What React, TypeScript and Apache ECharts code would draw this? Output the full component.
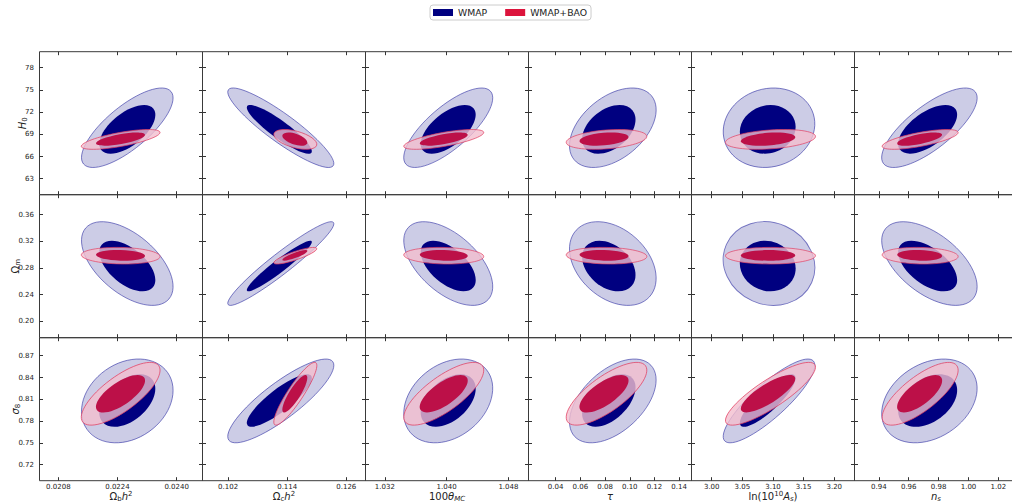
import React, { useEffect, useRef } from 'react';
import * as echarts from 'echarts';

const FONT = 'DejaVu Sans';

// Tick labels per column (x) and per row (y)
const X_TICKS = [
  ['0.0208', '0.0224', '0.0240'],
  ['0.102', '0.114', '0.126'],
  ['1.032', '1.040', '1.048'],
  ['0.04', '0.06', '0.08', '0.10', '0.12', '0.14'],
  ['3.00', '3.05', '3.10', '3.15', '3.20'],
  ['0.94', '0.96', '0.98', '1.00', '1.02'],
];
const Y_TICKS = [
  ['63', '66', '69', '72', '75', '78'],
  ['0.20', '0.24', '0.28', '0.32', '0.36'],
  ['0.72', '0.75', '0.78', '0.81', '0.84', '0.87'],
];
// Axis limits
const X_RANGES = [[0.02029, 0.0247], [0.0968, 0.1299], [1.0295, 1.0506], [0.018, 0.15], [2.967, 3.233], [0.9237, 1.0328]];
const Y_RANGES = [[60.84, 80.16], [0.1753, 0.39], [0.698, 0.8948]];

// Axis titles (rich text)
const X_NAMES = [
  '{t|Ω}{sub|b}{i|h}{sup|2}',
  '{t|Ω}{sub|c}{i|h}{sup|2}',
  '{t|100}{i|θ}{subi|MC}',
  '{i|τ}',
  '{t|ln(10}{sup|10}{i|A}{subi|s}{t|)}',
  '{i|n}{subi|s}',
];
const Y_NAMES = ['{i|H}{sub|0}', '{t|Ω}{sub|m}', '{i|σ}{sub|8}'];
const Y_NAME_GAPS = [11.5, 18.5, 18.5];

// Marginal contour extents per parameter: [centre, half-extent]
const WMAP_OUTER_X = [[0.022665, 0.001238], [0.1127, 0.010764], [1.04021, 0.005758], [0.08628, 0.03507], [3.0935, 0.07475], [0.97384, 0.03194]];
const WMAP_INNER_X = [[0.022666, 0.000758], [0.1124, 0.006601], [1.04021, 0.003559], [0.08304, 0.02163], [3.0914, 0.04553], [0.97267, 0.01974]];
const BAO_OUTER_X = [[0.022486, 0.001065], [0.11565, 0.004367], [1.03963, 0.005176], [0.08118, 0.03264], [3.0959, 0.07344], [0.96765, 0.02542]];
const BAO_INNER_X = [[0.022482, 0.000663], [0.11555, 0.002539], [1.03963, 0.003106], [0.07916, 0.01985], [3.0919, 0.04439], [0.96732, 0.01505]];
const WMAP_OUTER_Y = [[69.886, 5.37], [0.28663, 0.06283], [0.8078, 0.05765]];
const WMAP_INNER_Y = [[69.67, 3.29], [0.28295, 0.03799], [0.8083, 0.03609]];
const BAO_OUTER_Y = [[68.31, 1.337], [0.29841, 0.01246], [0.81765, 0.04319]];
const BAO_INNER_Y = [[68.35, 0.892], [0.29887, 0.00796], [0.81765, 0.02576]];

// Correlations (row x column)
const WMAP_OUTER_RHO = [
  [0.75, -0.9, 0.75, 0.45, 0.1, 0.75],
  [-0.55, 0.95, -0.55, -0.35, -0.1, -0.55],
  [0.25, 0.85, 0.3, 0.5, 0.85, 0.3],
];
const WMAP_INNER_RHO = [
  [0.6, -0.9, 0.6, 0.4, 0.1, 0.6],
  [-0.55, 0.95, -0.55, -0.35, -0.1, -0.55],
  [0.45, 0.85, 0.45, 0.5, 0.85, 0.4],
];
const BAO_OUTER_RHO = [
  [0.7, -0.5, 0.7, 0.3, 0.3, 0.7],
  [-0.1, 0.85, -0.1, -0.1, 0, -0.1],
  [0.75, 0.9, 0.75, 0.75, 0.85, 0.75],
];
const BAO_INNER_RHO = [
  [0.65, -0.5, 0.65, 0.3, 0.3, 0.65],
  [-0.1, 0.85, -0.1, -0.1, 0, -0.1],
  [0.7, 0.85, 0.7, 0.7, 0.8, 0.7],
];

const GRID_LEFT = 39.5;
const GRID_TOP = 51.7;
const CELL_W = 163;
const CELL_H = 143;

function makeRender(fills: string[], strokes: string[], widths: number[]) {
  return (params: any, api: any) => {
    const cx = api.value(0);
    const cy = api.value(1);
    const hx = api.value(2);
    const hy = api.value(3);
    const rho = api.value(4);
    const lvl = api.value(5);
    const p = api.coord([cx, cy]);
    const sz = api.size([hx, hy], [cx, cy]);
    const a = sz[0] * sz[0];
    const b = sz[1] * sz[1];
    const c = -rho * sz[0] * sz[1];
    const m = (a + b) / 2;
    const d = Math.sqrt(((a - b) / 2) ** 2 + c * c);
    const l1 = m + d;
    const l2 = Math.max(m - d, 0.5);
    const th = 0.5 * Math.atan2(2 * c, a - b);
    return {
      type: 'ellipse',
      x: p[0],
      y: p[1],
      rotation: -th,
      shape: { cx: 0, cy: 0, rx: Math.sqrt(l1), ry: Math.sqrt(l2) },
      style: { fill: fills[lvl], stroke: strokes[lvl], lineWidth: widths[lvl] },
    };
  };
}

const richStyles = {
  t: { fontSize: 10, fontFamily: FONT, color: '#222', lineHeight: 12 },
  i: { fontSize: 10, fontFamily: FONT, color: '#222', fontStyle: 'italic', lineHeight: 12 },
  sub: { fontSize: 7, fontFamily: FONT, color: '#222', verticalAlign: 'bottom', lineHeight: 9 },
  subi: { fontSize: 7, fontFamily: FONT, color: '#222', fontStyle: 'italic', verticalAlign: 'bottom', lineHeight: 9 },
  sup: { fontSize: 7, fontFamily: FONT, color: '#222', verticalAlign: 'top', lineHeight: 9 },
};

function labelFormatter(ticks: string[]) {
  return (v: number) => {
    const s = ticks.find((t) => Math.abs(Number(t) - v) < 1e-9);
    return s === undefined ? '' : s;
  };
}

function buildOption() {
  const grid: any[] = [];
  const xAxis: any[] = [];
  const yAxis: any[] = [];
  const series: any[] = [];
  const tickStyle = { color: '#333', width: 1 };
  const wmapRender = makeRender(
    ['rgba(0,0,128,0.2)', '#000080'],
    ['rgba(40,40,160,0.6)', '#000080'],
    [0.9, 0]
  );
  const baoRender = makeRender(
    ['rgba(243,190,206,0.8)', '#bc1048'],
    ['rgba(225,60,95,0.75)', '#bc1048'],
    [0.9, 0]
  );
  for (let r = 0; r < 3; r++) {
    for (let c = 0; c < 6; c++) {
      const k = r * 6 + c;
      grid.push({
        left: GRID_LEFT + c * CELL_W,
        top: GRID_TOP + r * CELL_H,
        width: CELL_W,
        height: CELL_H,
        show: true,
        borderColor: '#3a3a3a',
        borderWidth: 1,
        backgroundColor: 'transparent',
        containLabel: false,
        outerBoundsMode: 'none',
      });
      const xt = X_TICKS[c];
      const xv = xt.map(Number);
      const yt = Y_TICKS[r];
      const yv = yt.map(Number);
      for (const pos of ['bottom', 'top']) {
        const isLabel = pos === 'bottom' && r === 2;
        xAxis.push({
          type: 'value',
          gridIndex: k,
          position: pos,
          min: X_RANGES[c][0],
          max: X_RANGES[c][1],
          axisLine: { show: false },
          splitLine: { show: false },
          axisTick: { show: true, inside: true, length: 3.5, customValues: xv, lineStyle: tickStyle },
          axisLabel: {
            show: isLabel,
            customValues: xv,
            formatter: labelFormatter(xt),
            margin: 2.5,
            fontSize: 7,
            fontFamily: FONT,
            color: '#222',
          },
          name: isLabel ? X_NAMES[c] : '',
          nameLocation: 'middle',
          nameGap: 10,
          nameMoveOverlap: false,
          nameTextStyle: { rich: richStyles, fontFamily: FONT },
        });
      }
      for (const pos of ['left', 'right']) {
        const isLabel = pos === 'left' && c === 0;
        yAxis.push({
          type: 'value',
          gridIndex: k,
          position: pos,
          min: Y_RANGES[r][0],
          max: Y_RANGES[r][1],
          axisLine: { show: false },
          splitLine: { show: false },
          axisTick: { show: true, inside: true, length: 3.5, customValues: yv, lineStyle: tickStyle },
          axisLabel: {
            show: isLabel,
            customValues: yv,
            formatter: labelFormatter(yt),
            margin: 5.5,
            fontSize: 7,
            fontFamily: FONT,
            color: '#222',
          },
          name: isLabel ? Y_NAMES[r] : '',
          nameLocation: 'middle',
          nameGap: Y_NAME_GAPS[r],
          nameMoveOverlap: false,
          nameTextStyle: { rich: richStyles, fontFamily: FONT },
        });
      }
      series.push({
        type: 'custom',
        name: 'WMAP',
        xAxisIndex: 2 * k,
        yAxisIndex: 2 * k,
        silent: true,
        itemStyle: { color: '#000080' },
        renderItem: wmapRender,
        data: [
          [WMAP_OUTER_X[c][0], WMAP_OUTER_Y[r][0], WMAP_OUTER_X[c][1], WMAP_OUTER_Y[r][1], WMAP_OUTER_RHO[r][c], 0],
          [WMAP_INNER_X[c][0], WMAP_INNER_Y[r][0], WMAP_INNER_X[c][1], WMAP_INNER_Y[r][1], WMAP_INNER_RHO[r][c], 1],
        ],
      });
      series.push({
        type: 'custom',
        name: 'WMAP+BAO',
        xAxisIndex: 2 * k,
        yAxisIndex: 2 * k,
        silent: true,
        itemStyle: { color: '#dc143c' },
        renderItem: baoRender,
        data: [
          [BAO_OUTER_X[c][0], BAO_OUTER_Y[r][0], BAO_OUTER_X[c][1], BAO_OUTER_Y[r][1], BAO_OUTER_RHO[r][c], 0],
          [BAO_INNER_X[c][0], BAO_INNER_Y[r][0], BAO_INNER_X[c][1], BAO_INNER_Y[r][1], BAO_INNER_RHO[r][c], 1],
        ],
      });
    }
  }
  return {
    animation: false,
    backgroundColor: '#ffffff',
    legend: {
      data: ['WMAP', 'WMAP+BAO'],
      left: 430,
      top: 5,
      icon: 'rect',
      itemWidth: 20,
      itemHeight: 7,
      itemGap: 18,
      padding: [3, 4, 3, 3],
      borderColor: '#cccccc',
      borderWidth: 1,
      borderRadius: 3,
      selectedMode: false,
      textStyle: { fontFamily: FONT, fontSize: 9.3, color: '#222' },
    },
    grid,
    xAxis,
    yAxis,
    series,
  };
}

export default function App() {
  const ref = useRef<HTMLDivElement>(null);
  useEffect(() => {
    const chart = echarts.init(ref.current!, null, { renderer: 'svg' });
    chart.setOption(buildOption() as any);
    return () => chart.dispose();
  }, []);
  return (
    <div
      ref={ref}
      style={{ position: 'fixed', left: 0, top: 0, width: 1012, height: 504, background: '#fff' }}
    />
  );
}
